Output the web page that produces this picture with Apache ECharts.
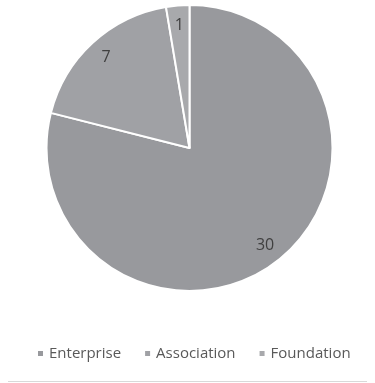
<!DOCTYPE html>
<html>
<head>
<meta charset="utf-8">
<script src="https://cdn.jsdelivr.net/npm/echarts@6/dist/echarts.min.js"></script>
<style>
  html, body { margin: 0; padding: 0; background: #fff; }
  #chart { width: 375px; height: 383px; }
</style>
</head>
<body>
<div id="chart"></div>
<script>
// Members by organisation type
const categories = ['Enterprise', 'Association', 'Foundation'];
const counts = [30, 7, 1];
const sliceColors = ['#98999d', '#a0a1a5', '#a8a9ac'];

const data = categories.map((name, i) => ({ name, value: counts[i] }));

const chart = echarts.init(document.getElementById('chart'), null, { renderer: 'canvas' });

const center = [189.5, 148];
const outer = 143;

chart.setOption({
  animation: false,
  color: sliceColors,
  textStyle: { fontFamily: '"Open Sans", sans-serif' },
  legend: {
    bottom: 22,
    left: 36,
    padding: 0,
    icon: 'rect',
    itemWidth: 7,
    itemHeight: 7,
    itemGap: 22,
    textStyle: { fontSize: 15, color: '#595959' },
    data: categories
  },
  graphic: [{
    type: 'line',
    shape: { x1: 8, y1: 381.5, x2: 367, y2: 381.5 },
    style: { stroke: '#d9d9d9', lineWidth: 1 }
  }],
  series: [
    {
      type: 'pie',
      center: center,
      radius: [0, outer],
      startAngle: 90,
      clockwise: true,
      data: data,
      itemStyle: { borderColor: '#ffffff', borderWidth: 2 },
      label: { show: false },
      labelLine: { show: false },
      emphasis: { disabled: true }
    },
    {
      // transparent ring carrying the value labels near the rim
      type: 'pie',
      center: center,
      radius: [97, outer],
      startAngle: 90,
      clockwise: true,
      silent: true,
      data: data,
      legendHoverLink: false,
      itemStyle: { color: 'rgba(0,0,0,0)', borderWidth: 0 },
      label: {
        show: true,
        position: 'inside',
        formatter: '{c}',
        fontSize: 16,
        color: '#404040',
        fontFamily: '"Open Sans", sans-serif'
      },
      labelLine: { show: false },
      emphasis: { disabled: true }
    }
  ]
});
</script>
</body>
</html>
